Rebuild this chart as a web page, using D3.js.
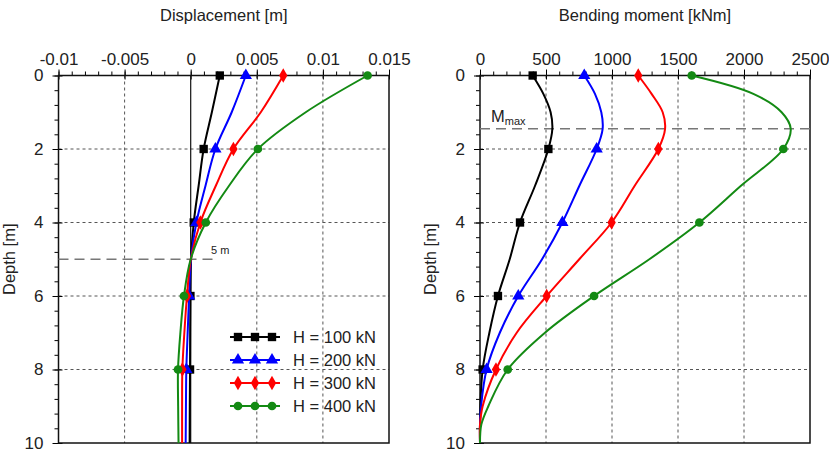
<!DOCTYPE html>
<html>
<head>
<meta charset="utf-8">
<script src="https://cdn.jsdelivr.net/npm/d3@7"></script>
<style>
  body { margin: 0; background: #fff; }
  svg text { font-family: "Liberation Sans", Arial, sans-serif; fill: #222; }
</style>
</head>
<body>
<div id="chart"></div>
<script>
// Displacement profiles (depth in m, displacement in m)
const dispDepth = [0, 1, 2, 3, 4, 5, 6, 7, 8, 9, 10];
const disp100 = [0.0022, 0.0016, 0.00098, 0.0006, 0.00023, 0.00003, -0.00002, -0.00004, -0.00005, -0.00007, -0.00008];
const disp200 = [0.00417, 0.0031, 0.00187, 0.00112, 0.00043, 0.00002, -0.00012, -0.00023, -0.00033, -0.00036, -0.00038];
const disp300 = [0.0070, 0.0053, 0.00323, 0.0019, 0.00073, 0.00001, -0.00028, -0.00048, -0.00063, -0.00065, -0.00065];
const disp400 = [0.01338, 0.0087, 0.00508, 0.0029, 0.00114, 0.0, -0.00051, -0.00078, -0.00096, -0.00095, -0.00092];

// Bending moment profiles (depth in m, moment in kNm)
const momDepth = [0, 0.5, 1, 1.45, 2, 3, 4, 5, 6, 7, 8, 9, 9.5, 10];
const mom100 = [399, 480, 535, 548, 518, 417, 303, 225, 136, 71, 20, 3, 0, 0];
const mom200 = [790, 871, 919, 929, 884, 753, 624, 470, 290, 150, 50, 8, 0, 0];
const mom300 = [1199, 1300, 1384, 1402, 1351, 1172, 997, 752, 505, 278, 121, 20, 0, 0];
const mom400 = [1604, 2071, 2285, 2354, 2298, 1977, 1662, 1283, 864, 492, 210, 63, 10, 0];

const markerDepths = [0, 2, 4, 6, 8];
const seriesNames = ["H = 100 kN", "H = 200 kN", "H = 300 kN", "H = 400 kN"];
const seriesColors = ["#000000", "#0000ff", "#ff0000", "#138a13"];
const seriesSymbols = [d3.symbolSquare, d3.symbolTriangle, d3.symbolDiamond, d3.symbolCircle];
const symbolSizes = [70, 65, 60, 60];

const dispTicks = [-0.01, -0.005, 0, 0.005, 0.01, 0.015];
const momTicks = [0, 500, 1000, 1500, 2000, 2500];
const depthTicks = [0, 2, 4, 6, 8, 10];
const pileLength = 5;   // "5 m" line
const mMaxDepth = 1.45; // M_max line

const W = 829, H = 454;
const svg = d3.select("#chart").append("svg")
    .attr("width", W)
    .attr("height", H);

const plotTop = 75.5, plotBottom = 443;
const y = d3.scaleLinear().domain([0, 10]).range([plotTop, plotBottom]);

function drawPanel(opts) {
    const x = d3.scaleLinear().domain(opts.domain).range(opts.range);
    const g = svg.append("g");
    const [x0, x1] = opts.range;

    // grid
    g.selectAll(".vgrid")
        .data(opts.ticks.filter(t => t !== opts.domain[0] && t !== opts.domain[1] && t !== 0))
        .enter().append("line")
        .attr("x1", d => x(d)).attr("x2", d => x(d))
        .attr("y1", plotTop).attr("y2", plotBottom)
        .attr("stroke", "#555").attr("stroke-width", 1).attr("stroke-dasharray", "3,3");

    g.selectAll(".hgrid")
        .data([2, 4, 6, 8])
        .enter().append("line")
        .attr("x1", x0).attr("x2", x1)
        .attr("y1", d => y(d)).attr("y2", d => y(d))
        .attr("stroke", "#555").attr("stroke-width", 1).attr("stroke-dasharray", "3,3");

    // minor ticks
    g.append("g")
        .attr("transform", `translate(0,${plotTop})`)
        .call(d3.axisTop(x).tickValues(d3.range(opts.domain[0], opts.domain[1] + opts.minor / 2, opts.minor)).tickSize(4).tickFormat(""))
        .call(a => a.select(".domain").remove());
    g.append("g")
        .attr("transform", `translate(${x0},0)`)
        .call(d3.axisLeft(y).tickValues(d3.range(0, 10.01, 0.4)).tickSize(4).tickFormat(""))
        .call(a => a.select(".domain").remove());

    // major ticks (crossing)
    const xa = g.append("g")
        .attr("transform", `translate(0,${plotTop})`)
        .call(d3.axisTop(x).tickValues(opts.ticks).tickSize(6).tickPadding(5).tickFormat(opts.fmt));
    xa.select(".domain").remove();
    xa.selectAll(".tick line").attr("y1", 4).attr("y2", -6);
    xa.selectAll("text").style("font-size", "17px").attr("fill", "#222");

    const ya = g.append("g")
        .attr("transform", `translate(${x0},0)`)
        .call(d3.axisLeft(y).tickValues(depthTicks).tickSize(6).tickPadding(9));
    ya.select(".domain").remove();
    ya.selectAll(".tick line").attr("x1", 4).attr("x2", -6);
    ya.selectAll("text").style("font-size", "17px").attr("fill", "#222");

    // frame
    g.append("rect")
        .attr("x", x0).attr("y", plotTop)
        .attr("width", x1 - x0).attr("height", plotBottom - plotTop)
        .attr("fill", "none").attr("stroke", "#111").attr("stroke-width", 1.5);

    // titles
    g.append("text")
        .attr("x", (x0 + x1) / 2).attr("y", 21)
        .attr("text-anchor", "middle")
        .style("font-size", "16.5px")
        .text(opts.title);
    g.append("text")
        .attr("transform", `translate(${x0 - 44},${(plotTop + plotBottom) / 2}) rotate(-90)`)
        .attr("text-anchor", "middle")
        .style("font-size", "16.5px")
        .text("Depth [m]");

    return { g, x };
}

function drawSeries(panel, depths, seriesList) {
    const line = d3.line()
        .x(d => panel.x(d.v))
        .y(d => y(d.depth))
        .curve(d3.curveCatmullRom.alpha(0.5));
    seriesList.forEach((vals, i) => {
        const pts = depths.map((dep, j) => ({ depth: dep, v: vals[j] }));
        panel.g.append("path")
            .datum(pts)
            .attr("d", line)
            .attr("fill", "none")
            .attr("stroke", seriesColors[i])
            .attr("stroke-width", 2);
        panel.g.selectAll(".m" + i)
            .data(pts.filter(p => markerDepths.includes(p.depth)))
            .enter().append("path")
            .attr("transform", p => `translate(${panel.x(p.v)},${y(p.depth)})`)
            .attr("d", d3.symbol().type(seriesSymbols[i]).size(symbolSizes[i]))
            .attr("fill", seriesColors[i]);
    });
}

// ---- Left panel: displacement
const left = drawPanel({
    domain: [-0.01, 0.015],
    range: [58.5, 389],
    ticks: dispTicks,
    minor: 0.001,
    fmt: d => d === 0 ? "0" : String(+d.toFixed(3)),
    title: "Displacement [m]"
});

// zero line
left.g.append("line")
    .attr("x1", left.x(0)).attr("x2", left.x(0))
    .attr("y1", plotTop).attr("y2", plotBottom)
    .attr("stroke", "#111").attr("stroke-width", 1.2);

// 5 m line
left.g.append("line")
    .attr("x1", 58.5).attr("x2", 218)
    .attr("y1", y(pileLength)).attr("y2", y(pileLength))
    .attr("stroke", "#777").attr("stroke-width", 1.5).attr("stroke-dasharray", "10,6");
left.g.append("text")
    .attr("x", 211).attr("y", y(pileLength) - 5)
    .style("font-size", "11px")
    .text("5 m");

drawSeries(left, dispDepth, [disp100, disp200, disp300, disp400]);

// legend
const legend = left.g.append("g");
seriesNames.forEach((name, i) => {
    const ly = 337 + i * 23;
    legend.append("line")
        .attr("x1", 230).attr("x2", 280)
        .attr("y1", ly).attr("y2", ly)
        .attr("stroke", seriesColors[i]).attr("stroke-width", 2);
    [238, 255, 272].forEach(mx => {
        legend.append("path")
            .attr("transform", `translate(${mx},${ly})`)
            .attr("d", d3.symbol().type(seriesSymbols[i]).size(symbolSizes[i]))
            .attr("fill", seriesColors[i]);
    });
    legend.append("text")
        .attr("x", 293).attr("y", ly + 6)
        .style("font-size", "16.5px")
        .text(name);
});

// ---- Right panel: bending moment
const right = drawPanel({
    domain: [0, 2500],
    range: [480, 810],
    ticks: momTicks,
    minor: 100,
    fmt: d3.format("d"),
    title: "Bending moment [kNm]"
});

right.g.append("line")
    .attr("x1", 480).attr("x2", 810)
    .attr("y1", y(mMaxDepth)).attr("y2", y(mMaxDepth))
    .attr("stroke", "#777").attr("stroke-width", 1.5).attr("stroke-dasharray", "10,6");
const mlab = right.g.append("text")
    .attr("x", 491).attr("y", y(mMaxDepth) - 7)
    .style("font-size", "16.5px");
mlab.append("tspan").text("M");
mlab.append("tspan").attr("dy", 3).style("font-size", "11px").text("max");

drawSeries(right, momDepth, [mom100, mom200, mom300, mom400]);
</script>
</body>
</html>
